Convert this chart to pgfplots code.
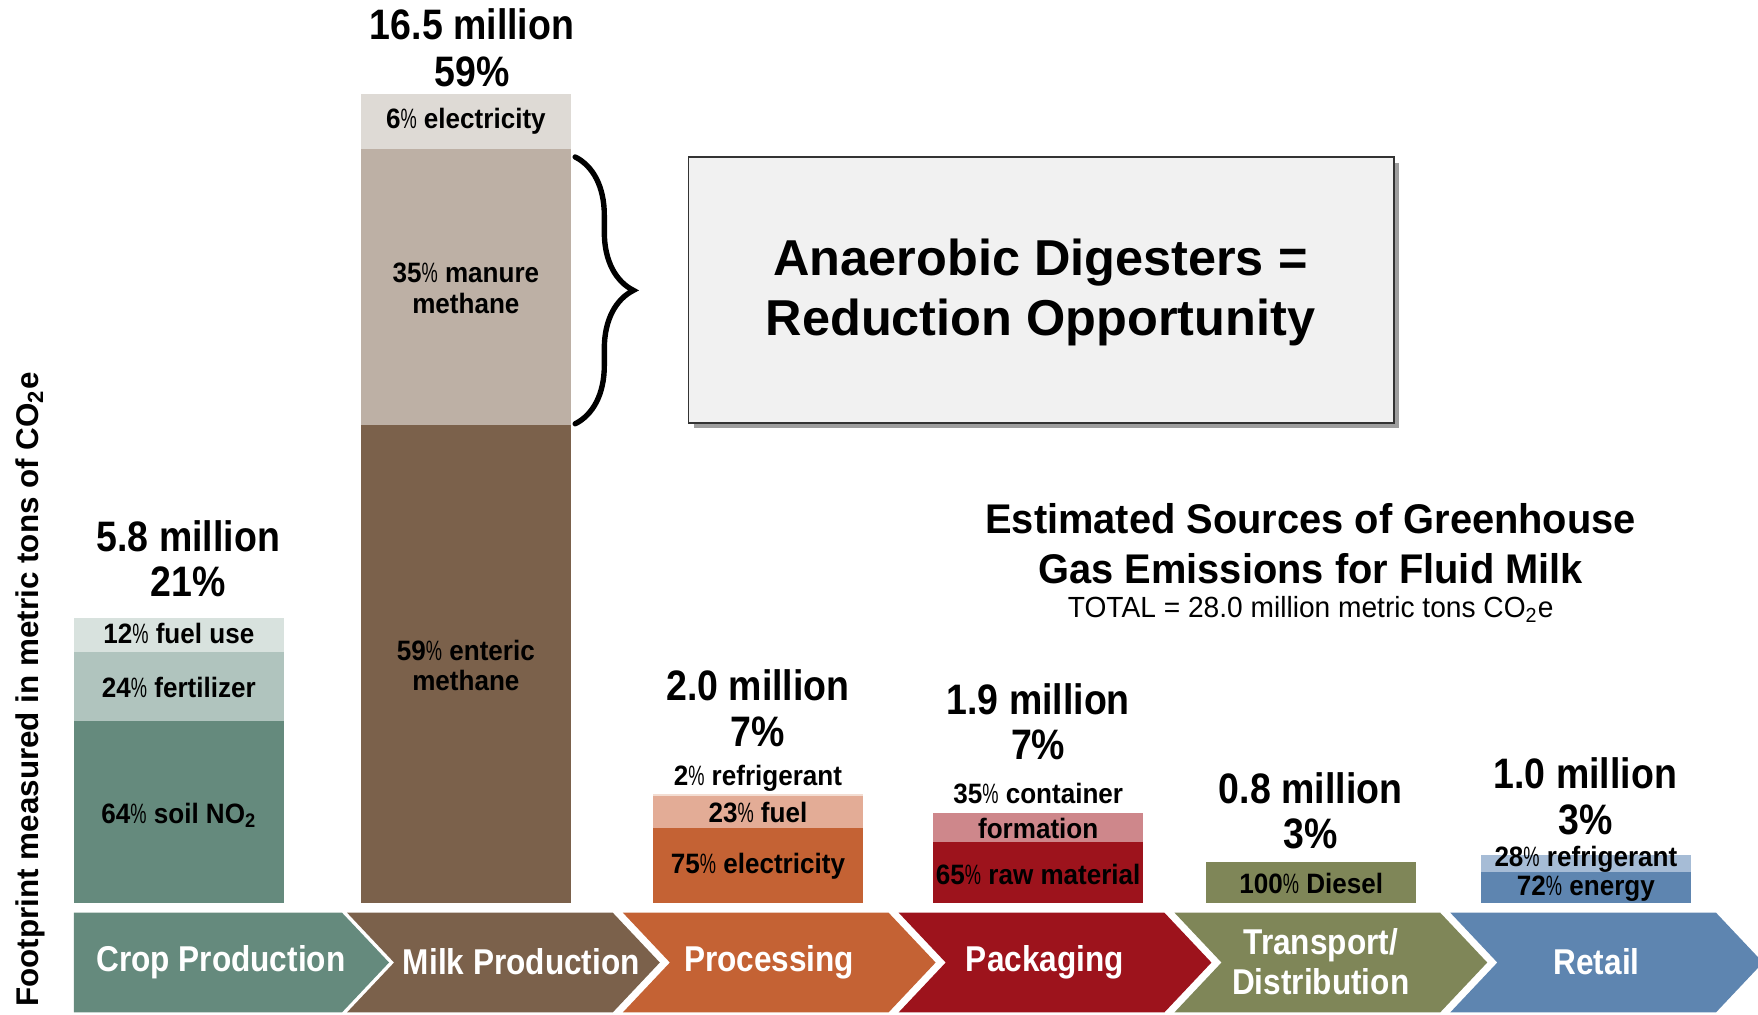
\documentclass[border=0pt]{standalone}
\usepackage{pgfplots}
\pgfplotsset{compat=1.18}
\usepackage{graphicx}
\usepackage{fontspec}
\setmainfont{Liberation Sans}
\usetikzlibrary{decorations.pathreplacing}

\definecolor{cropA}{HTML}{658A7D}
\definecolor{cropB}{HTML}{B0C4BE}
\definecolor{cropC}{HTML}{D8E2DE}
\definecolor{milkA}{HTML}{7B614B}
\definecolor{milkB}{HTML}{BDB0A5}
\definecolor{milkC}{HTML}{DEDAD5}
\definecolor{procA}{HTML}{C46234}
\definecolor{procB}{HTML}{E3AC96}
\definecolor{procC}{HTML}{F3DDD2}
\definecolor{packA}{HTML}{9D131C}
\definecolor{packB}{HTML}{CE878B}
\definecolor{tranA}{HTML}{7F8658}
\definecolor{retA}{HTML}{5E85B0}
\definecolor{retB}{HTML}{A6BCD6}
\definecolor{boxF}{HTML}{F1F1F1}

\newcommand{\nar}[1]{\scalebox{0.88}[1]{#1}}
\newcommand{\snar}[1]{\scalebox{0.93}[1]{#1}}
\newcommand{\pc}{\scalebox{0.7}[1]{\mdseries\%}}
\newcommand{\bigf}{\fontsize{19}{21}\selectfont\bfseries}
\newcommand{\segf}{\fontsize{12.5}{14}\selectfont\bfseries}
\newcommand{\chevf}{\fontsize{16}{18}\selectfont\bfseries}

\pgfplotsset{seg/.style={ybar, bar width=93.5pt, bar shift=0pt, draw=none, fill=#1}}

\begin{document}
\begin{tikzpicture}
\useasboundingbox (0,0) rectangle (784pt,452.5pt);
\begin{axis}[
  at={(0,0)}, anchor=south west,
  scale only axis, width=784pt, height=452.5pt,
  xmin=0, xmax=1568, ymin=-2.2883, ymax=18.4211,
  axis lines=none, clip=false,
]
% Crop Production (million t CO2e, cumulative from top segment down)
\addplot[seg=cropC] coordinates {(159.5,5.80)};
\addplot[seg=cropB] coordinates {(159.5,5.12)};
\addplot[seg=cropA] coordinates {(159.5,3.71)};
% Milk Production
\addplot[seg=milkC] coordinates {(415.5,16.50)};
\addplot[seg=milkB] coordinates {(415.5,15.38)};
\addplot[seg=milkA] coordinates {(415.5,9.74)};
% Processing
\addplot[seg=procC] coordinates {(676,2.21)};
\addplot[seg=procB] coordinates {(676,2.17)};
\addplot[seg=procA] coordinates {(676,1.53)};
% Packaging
\addplot[seg=packB] coordinates {(926,1.83)};
\addplot[seg=packA] coordinates {(926,1.24)};
% Transport/Distribution
\addplot[seg=tranA] coordinates {(1169.5,0.82)};
% Retail
\addplot[seg=retB] coordinates {(1414.5,0.98)};
\addplot[seg=retA] coordinates {(1414.5,0.62)};
\end{axis}

\begin{scope}[shift={(0pt,452.5pt)}, x=0.5pt, y=-0.5pt]
% chevrons
\fill[cropA] (66,814) -- (305,814) -- (347,858.5) -- (305,903) -- (66,903) -- cycle;
\foreach \L/\c in {309.5/milkA, 555.5/procA, 801.5/packA, 1047.5/tranA, 1293.5/retA}{
  \fill[\c] (\L,814) -- ({\L+237},814) -- ({\L+279},858.5) -- ({\L+237},903) -- (\L,903) -- ({\L+42},858.5) -- cycle;
}
\node[white, font=\chevf] at (197,858) {\nar{Crop Production}};
\node[white, font=\chevf] at (465,858) {\nar{Milk Production}};
\node[white, font=\chevf] at (686,858) {\nar{Processing}};
\node[white, font=\chevf] at (932,858) {\nar{Packaging}};
\node[white, font=\chevf] at (1178,843) {\nar{Transport/}};
\node[white, font=\chevf] at (1178,876) {\nar{Distribution}};
\node[white, font=\chevf] at (1424,858) {\nar{Retail}};

% totals
\node[font=\bigf] at (168,478) {\nar{5.8 million}};
\node[font=\bigf] at (168,519) {\nar{21\%}};
\node[font=\bigf] at (421,22) {\nar{16.5 million}};
\node[font=\bigf] at (421,64) {\nar{59\%}};
\node[font=\bigf] at (676,611) {\nar{2.0 million}};
\node[font=\bigf] at (676,653) {\nar{7\%}};
\node[font=\bigf] at (926,624) {\nar{1.9 million}};
\node[font=\bigf] at (926,664) {\nar{7\%}};
\node[font=\bigf] at (1169,703) {\nar{0.8 million}};
\node[font=\bigf] at (1169,744) {\nar{3\%}};
\node[font=\bigf] at (1414,690) {\nar{1.0 million}};
\node[font=\bigf] at (1414,731) {\nar{3\%}};

% segment labels
\node[font=\segf] at (159.5,565) {\snar{12\pc{} fuel use}};
\node[font=\segf] at (159.5,613) {\snar{24\pc{} fertilizer}};
\node[font=\segf] at (159.5,727) {\snar{64\pc{} soil NO\textsubscript{2}}};
\node[font=\segf] at (415.5,108) {\snar{6\pc{} electricity}};
\node[font=\segf] at (415.5,243) {\snar{35\pc{} manure}};
\node[font=\segf] at (415.5,271) {\snar{methane}};
\node[font=\segf] at (415.5,580) {\snar{59\pc{} enteric}};
\node[font=\segf] at (415.5,607) {\snar{methane}};
\node[font=\segf] at (676,694) {\snar{2\pc{} refrigerant}};
\node[font=\segf] at (676,725) {\snar{23\pc{} fuel}};
\node[font=\segf] at (676,773) {\snar{75\pc{} electricity}};
\node[font=\segf] at (926,708) {\snar{35\pc{} container}};
\node[font=\segf] at (926,739) {\snar{formation}};
\node[font=\segf] at (926,780) {\snar{65\pc{} raw material}};
\node[font=\segf] at (1169.5,788) {\snar{100\pc{} Diesel}};
\node[font=\segf] at (1414.5,766) {\snar{28\pc{} refrigerant}};
\node[font=\segf] at (1414.5,793) {\snar{72\pc{} energy}};

% y label
\node[font=\fontsize{14}{16}\selectfont\bfseries, rotate=90] at (27,615) {Footprint measured in metric tons of CO\textsubscript{2}e};

% brace
\draw[line width=2.4pt, line cap=round, decorate, decoration={brace, amplitude=26pt}] (513,140) -- (513,378);

% box
\fill[black!38] (619,145) rectangle (1248,382);
\draw[fill=boxF, draw=black!80, line width=0.8pt] (614,140) rectangle (1243,377);
\node[font=\fontsize{22.5}{27}\selectfont\bfseries] at (928,234) {Anaerobic Digesters =};
\node[font=\fontsize{22.5}{27}\selectfont\bfseries] at (928,288) {Reduction Opportunity};

% title
\node[font=\fontsize{18.5}{22}\selectfont\bfseries] at (1169,463) {\scalebox{0.96}[1]{Estimated Sources of Greenhouse}};
\node[font=\fontsize{18.5}{22}\selectfont\bfseries] at (1169,507) {\scalebox{0.96}[1]{Gas Emissions for Fluid Milk}};
\node[font=\fontsize{13}{15}\selectfont] at (1169,544) {\scalebox{0.965}[1]{TOTAL = 28.0 million metric tons CO\textsubscript{2}e}};
\end{scope}
\end{tikzpicture}
\end{document}
